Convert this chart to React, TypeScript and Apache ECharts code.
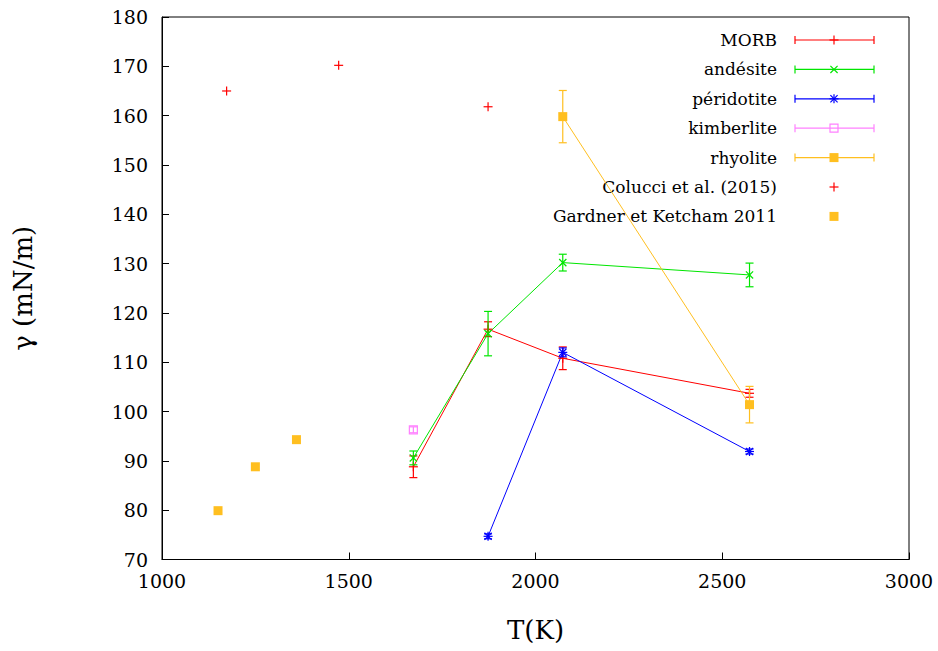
import React, { useEffect, useRef } from "react";
import * as echarts from "echarts";

// ---- data ----
const xTicks = [1000, 1500, 2000, 2500, 3000];
const yTicks = [70, 180];

const morbT = [1673, 1873, 2073, 2573];
const morbG = [88.8, 116.7, 110.8, 103.7];
const morbE = [2.2, 1.5, 2.3, 0.8];

const andesiteT = [1673, 1873, 2073, 2573];
const andesiteG = [90.6, 115.8, 130.2, 127.7];
const andesiteE = [1.4, 4.5, 1.7, 2.4];

const peridotiteT = [1873, 2073, 2573];
const peridotiteG = [74.7, 112.0, 91.9];
const peridotiteE = [0.5, 0.9, 0.5];

const kimberliteT = [1673];
const kimberliteG = [96.3];
const kimberliteE = [0.6];

const rhyoliteT = [2073, 2573];
const rhyoliteG = [159.8, 101.4];
const rhyoliteE = [5.3, 3.7];

const colucciT = [1173, 1473, 1873];
const colucciG = [165.0, 170.2, 161.8];

const gardnerT = [1150, 1250, 1360];
const gardnerG = [79.9, 88.8, 94.3];

const legendNames = [
  "MORB",
  "andésite",
  "péridotite",
  "kimberlite",
  "rhyolite",
  "Colucci et al. (2015)",
  "Gardner et Ketcham 2011",
];

// ---- styles ----
const C_RED = "#ff0000";
const C_GREEN = "#00e600";
const C_BLUE = "#0000ff";
const C_PINK = "#ff80ff";
const C_GOLD = "#ffbf20";
const SERIF = "'DejaVu Serif', serif";

type Marker = "plus" | "cross" | "star" | "openSquare" | "filledSquare";

function markerShapes(kind: Marker, cx: number, cy: number, color: string): any[] {
  const s = { stroke: color, lineWidth: 1.2 };
  const out: any[] = [];
  const h = 4.5;
  const d = 3.6;
  if (kind === "plus" || kind === "star") {
    out.push({ type: "line", shape: { x1: cx - h, y1: cy, x2: cx + h, y2: cy }, style: s, silent: true });
    out.push({ type: "line", shape: { x1: cx, y1: cy - h, x2: cx, y2: cy + h }, style: s, silent: true });
  }
  if (kind === "cross" || kind === "star") {
    out.push({ type: "line", shape: { x1: cx - d, y1: cy - d, x2: cx + d, y2: cy + d }, style: s, silent: true });
    out.push({ type: "line", shape: { x1: cx - d, y1: cy + d, x2: cx + d, y2: cy - d }, style: s, silent: true });
  }
  if (kind === "openSquare") {
    out.push({ type: "rect", shape: { x: cx - 4, y: cy - 4, width: 8, height: 8 }, style: { fill: "none", stroke: color, lineWidth: 1.2 }, silent: true });
  }
  if (kind === "filledSquare") {
    out.push({ type: "rect", shape: { x: cx - 4.5, y: cy - 4.5, width: 9, height: 9 }, style: { fill: color }, silent: true });
  }
  return out;
}

function errorSeries(name: string, T: number[], G: number[], E: number[] | null, color: string, marker: Marker): any {
  return {
    type: "custom",
    name,
    z: 5,
    data: T.map((t, i) => [t, G[i], E ? E[i] : 0]),
    renderItem: (params: any, api: any) => {
      const x = api.value(0);
      const y = api.value(1);
      const e = api.value(2);
      const p = api.coord([x, y]);
      const children: any[] = [];
      if (E) {
        const top = api.coord([x, y + e]);
        const bot = api.coord([x, y - e]);
        const s = { stroke: color, lineWidth: 1.2 };
        children.push({ type: "line", shape: { x1: p[0], y1: top[1], x2: p[0], y2: bot[1] }, style: s });
        children.push({ type: "line", shape: { x1: p[0] - 4, y1: top[1], x2: p[0] + 4, y2: top[1] }, style: s });
        children.push({ type: "line", shape: { x1: p[0] - 4, y1: bot[1], x2: p[0] + 4, y2: bot[1] }, style: s });
      }
      children.push(...markerShapes(marker, p[0], p[1], color));
      return { type: "group", children };
    },
  };
}

function lineSeries(name: string, T: number[], G: number[], color: string): any {
  return {
    type: "line",
    name: name + " line",
    data: T.map((t, i) => [t, G[i]]),
    showSymbol: false,
    symbol: "none",
    lineStyle: { color, width: 1 },
    z: 3,
  };
}

const legendItems: { name: string; color: string; marker: Marker; bar: boolean }[] = [
  { name: legendNames[0], color: C_RED, marker: "plus", bar: true },
  { name: legendNames[1], color: C_GREEN, marker: "cross", bar: true },
  { name: legendNames[2], color: C_BLUE, marker: "star", bar: true },
  { name: legendNames[3], color: C_PINK, marker: "openSquare", bar: true },
  { name: legendNames[4], color: C_GOLD, marker: "filledSquare", bar: true },
  { name: legendNames[5], color: C_RED, marker: "plus", bar: false },
  { name: legendNames[6], color: C_GOLD, marker: "filledSquare", bar: false },
];

function legendGraphics(): any[] {
  const out: any[] = [];
  const textRight = 777;
  const x1 = 795;
  const x2 = 874;
  const xm = 834;
  legendItems.forEach((it, i) => {
    const y = 40 + i * 29.4;
    out.push({
      type: "text",
      x: textRight,
      y,
      style: { text: it.name, align: "right", verticalAlign: "middle", font: `17px ${SERIF}`, fill: "#000" },
    });
    if (it.bar) {
      const s = { stroke: it.color, lineWidth: 1.2 };
      out.push({ type: "line", shape: { x1, y1: y, x2, y2: y }, style: s });
      out.push({ type: "line", shape: { x1, y1: y - 4, x2: x1, y2: y + 4 }, style: s });
      out.push({ type: "line", shape: { x1: x2, y1: y - 4, x2, y2: y + 4 }, style: s });
    }
    out.push(...markerShapes(it.marker, xm, y, it.color));
  });
  return out;
}

export default function App() {
  const ref = useRef<HTMLDivElement>(null);
  useEffect(() => {
    if (!ref.current) return;
    const chart = echarts.init(ref.current, null, { renderer: "svg" });
    const axisLabelStyle = { color: "#000", fontFamily: SERIF, fontSize: 19 };
    chart.setOption({
      animation: false,
      backgroundColor: "#fff",
      grid: { left: 162, top: 17, width: 747, height: 542.5, show: true, borderColor: "#000", borderWidth: 1, backgroundColor: "transparent" },
      xAxis: {
        type: "value",
        min: xTicks[0],
        max: xTicks[xTicks.length - 1],
        interval: 500,
        name: "T(K)",
        nameLocation: "middle",
        nameGap: 57,
        nameTextStyle: { color: "#000", fontFamily: SERIF, fontSize: 26 },
        axisLine: { show: true, lineStyle: { color: "#000", width: 1 } },
        axisTick: { show: true, inside: true, length: 7, lineStyle: { color: "#000" } },
        axisLabel: { ...axisLabelStyle, margin: 12, formatter: (v: number) => String(v) },
        splitLine: { show: false },
      },
      yAxis: {
        type: "value",
        min: yTicks[0],
        max: yTicks[1],
        interval: 10,
        name: "γ (mN/m)",
        nameLocation: "middle",
        nameGap: 126,
        nameTextStyle: { color: "#000", fontFamily: SERIF, fontSize: 26 },
        axisLine: { show: true, lineStyle: { color: "#000", width: 1 } },
        axisTick: { show: true, inside: true, length: 7, lineStyle: { color: "#000" } },
        axisLabel: { ...axisLabelStyle, margin: 14, formatter: (v: number) => String(v) },
        splitLine: { show: false },
      },
      series: [
        lineSeries("MORB", morbT, morbG, C_RED),
        lineSeries("andésite", andesiteT, andesiteG, C_GREEN),
        lineSeries("péridotite", peridotiteT, peridotiteG, C_BLUE),
        lineSeries("rhyolite", rhyoliteT, rhyoliteG, C_GOLD),
        errorSeries("MORB", morbT, morbG, morbE, C_RED, "plus"),
        errorSeries("andésite", andesiteT, andesiteG, andesiteE, C_GREEN, "cross"),
        errorSeries("péridotite", peridotiteT, peridotiteG, peridotiteE, C_BLUE, "star"),
        errorSeries("kimberlite", kimberliteT, kimberliteG, kimberliteE, C_PINK, "openSquare"),
        errorSeries("rhyolite", rhyoliteT, rhyoliteG, rhyoliteE, C_GOLD, "filledSquare"),
        errorSeries("Colucci et al. (2015)", colucciT, colucciG, null, C_RED, "plus"),
        errorSeries("Gardner et Ketcham 2011", gardnerT, gardnerG, null, C_GOLD, "filledSquare"),
      ],
      graphic: legendGraphics(),
    });
    return () => chart.dispose();
  }, []);
  return <div ref={ref} style={{ width: 938, height: 651, position: "absolute", left: 0, top: 0 }} />;
}
